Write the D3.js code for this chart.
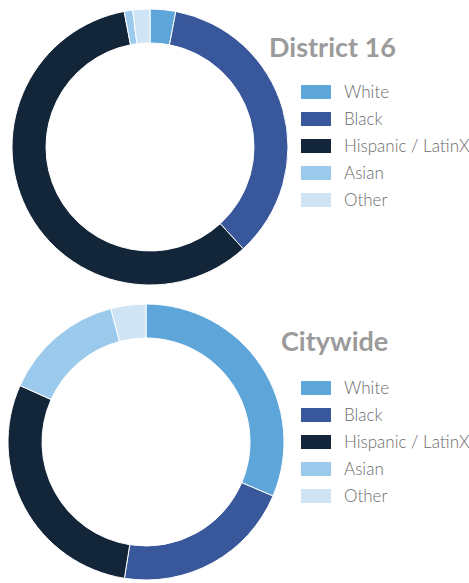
<!DOCTYPE html>
<html>
<head>
<meta charset="utf-8">
<script src="https://cdn.jsdelivr.net/npm/d3@7"></script>
<style>
  body { margin: 0; background: #fff; }
</style>
</head>
<body>
<div id="chart"></div>
<script>
// groups, in legend / slice order
var groups = ["White", "Black", "Hispanic / LatinX", "Asian", "Other"];
var colors = ["#5ea6da", "#39579b", "#132538", "#9ccaec", "#cfe5f5"];

// share of each group (%)
var district16 = [3, 35.2, 58.8, 1, 2];
var citywide = [31.4, 21.1, 29.2, 14.2, 4.1];

var titles = ["District 16", "Citywide"];

const width = 469, height = 583;

const svg = d3.select("#chart")
  .append("svg")
    .attr("width", width)
    .attr("height", height);

const color = d3.scaleOrdinal().domain(groups).range(colors);

const pie = d3.pie().sort(null).value(function(d) { return d.value; });
const arc = d3.arc().innerRadius(104).outerRadius(138);

// one panel: ring + title + legend
function panel(values, title, cx, cy, ty, tx, ly) {
  var data = groups.map(function(g, i) { return {group: g, value: values[i]}; });

  svg.append("g")
      .attr("transform", `translate(${cx},${cy})`)
    .selectAll("path")
    .data(pie(data))
    .join("path")
      .attr("d", arc)
      .attr("fill", function(d) { return color(d.data.group); })
      .attr("stroke", "#fff")
      .attr("stroke-width", 1);

  svg.append("text")
    .attr("x", tx)
    .attr("y", ty)
    .style("font-family", "Lato, sans-serif")
    .style("font-weight", "bold")
    .style("font-size", "27px")
    .style("fill", "#9b9b9b")
    .text(title);

  const legend = svg.append("g")
    .attr("transform", `translate(301,${ly})`);

  const row = legend.selectAll("g")
    .data(groups)
    .join("g")
      .attr("transform", function(d, i) { return `translate(0,${i * 27})`; });

  row.append("rect")
    .attr("x", 0)
    .attr("y", -7)
    .attr("width", 30)
    .attr("height", 14)
    .attr("fill", function(d) { return color(d); });

  row.append("text")
    .attr("x", 43)
    .attr("y", 6)
    .style("font-family", "Lato, sans-serif")
    .style("font-weight", 300)
    .style("font-size", "17px")
    .style("fill", "#6b6b6b")
    .text(function(d) { return d; });
}

panel(district16, titles[0], 150, 147, 57, 269, 92);
panel(citywide, titles[1], 146, 442, 351, 281, 388);
</script>
</body>
</html>
